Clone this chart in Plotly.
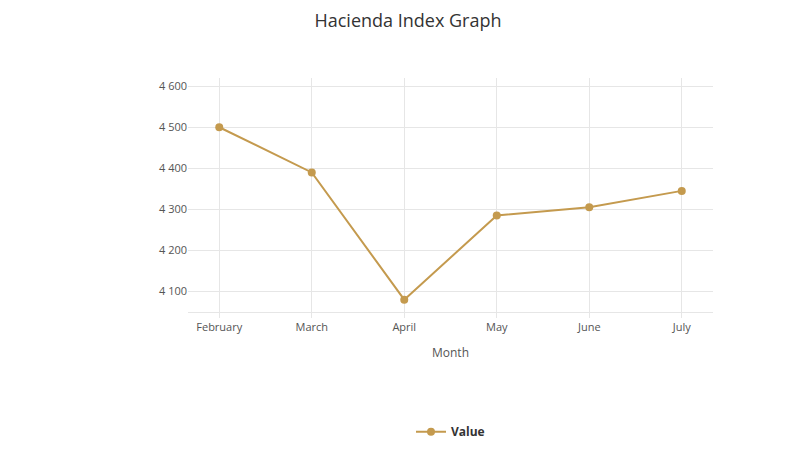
import plotly.graph_objects as go

months = ["February", "March", "April", "May", "June", "July"]
values = [4500, 4390, 4080, 4285, 4305, 4345]
y_ticks = [4100, 4200, 4300, 4400, 4500, 4600]
y_labels = ["4 100", "4 200", "4 300", "4 400", "4 500", "4 600"]

fig = go.Figure(go.Scatter(
    x=months, y=values, mode="lines+markers", name="<b>Value</b>",
    line=dict(color="#C49A4E", width=2),
    marker=dict(color="#C49A4E", size=8),
))
fig.update_layout(
    width=800, height=450,
    paper_bgcolor="white", plot_bgcolor="white",
    font=dict(family="Open Sans, DejaVu Sans", color="#555", size=11),
    title=dict(text="Hacienda Index Graph", x=0.5, y=0.985, yanchor="top", xanchor="center",
               font=dict(size=18, color="#333")),
    margin=dict(l=180, r=95, t=70, b=130),
    showlegend=True,
    legend=dict(orientation="h", x=0.5, xanchor="center", y=-0.45,
                font=dict(size=12, color="#333", family="Open Sans, DejaVu Sans")),
    xaxis=dict(title=dict(text="Month", font=dict(size=12, color="#555")),
               showgrid=True, gridcolor="#e6e6e6", showline=True, linecolor="#e6e6e6",
               ticks="outside", tickcolor="#e6e6e6"),
    yaxis=dict(range=[4050, 4620], tickvals=y_ticks, ticktext=y_labels,
               showgrid=True, gridcolor="#e6e6e6", zeroline=False),
    annotations=[dict(text="Highcharts.com", xref="paper", yref="paper",
                      x=1.175, y=-0.64, xanchor="right", yanchor="bottom",
                      showarrow=False, font=dict(size=9, color="#999"))],
)
fig.write_html("out.html")
